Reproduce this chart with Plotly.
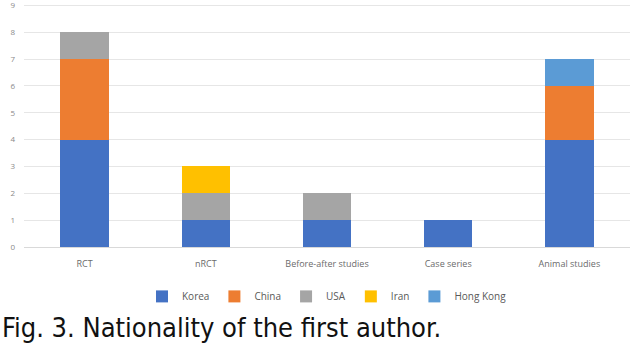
import plotly.graph_objects as go

categories = ["RCT", "nRCT", "Before-after studies", "Case series", "Animal studies"]
korea = [4, 1, 1, 1, 4]
china = [3, 0, 0, 0, 2]
usa = [1, 1, 1, 0, 0]
iran = [0, 1, 0, 0, 0]
hong_kong = [0, 0, 0, 0, 1]
y_ticks = [0, 1, 2, 3, 4, 5, 6, 7, 8, 9]

series = [
    ("Korea", korea, "#4472C4"),
    ("China", china, "#ED7D31"),
    ("USA", usa, "#A5A5A5"),
    ("Iran", iran, "#FFC000"),
    ("Hong Kong", hong_kong, "#5B9BD5"),
]

fig = go.Figure()
for name, vals, color in series:
    fig.add_trace(go.Bar(name=name, x=categories, y=vals, marker=dict(color=color, line=dict(width=0))))

fig.update_layout(
    barmode="stack",
    bargap=0.6,
    width=634,
    height=345,
    margin=dict(l=24, r=4, t=0, b=98),
    paper_bgcolor="white",
    plot_bgcolor="white",
    font=dict(family="Open Sans, Liberation Sans, sans-serif", color="#595959"),
    xaxis=dict(tickfont=dict(size=9, color="#6b6b6b"), showgrid=False, ticks="", showline=False,
               ticklabelstandoff=10),
    yaxis=dict(range=[0, 9.2], tickvals=y_ticks, tickfont=dict(size=8, color="#8a8a8a"),
               showgrid=True, gridcolor="#E6E6E6", gridwidth=1, zeroline=True,
               zerolinecolor="#D9D9D9", zerolinewidth=1, ticks="", ticklabelstandoff=8,
               ticklabeloverflow="allow"),
    legend=dict(orientation="h", x=0.5, xanchor="center", y=-0.2, yanchor="middle",
                traceorder="normal", font=dict(size=10, color="#595959"), itemwidth=30,
                itemsizing="constant"),
    showlegend=True,
)

fig.add_annotation(
    text="Fig. 3. Nationality of the first author.",
    xref="paper", yref="paper", x=-0.04, y=-0.255, xanchor="left", yanchor="top",
    showarrow=False,
    font=dict(family="DejaVu Sans Condensed, Liberation Sans Narrow, Liberation Sans, sans-serif", size=27, color="#111111"),
)

fig.write_html("out.html")
